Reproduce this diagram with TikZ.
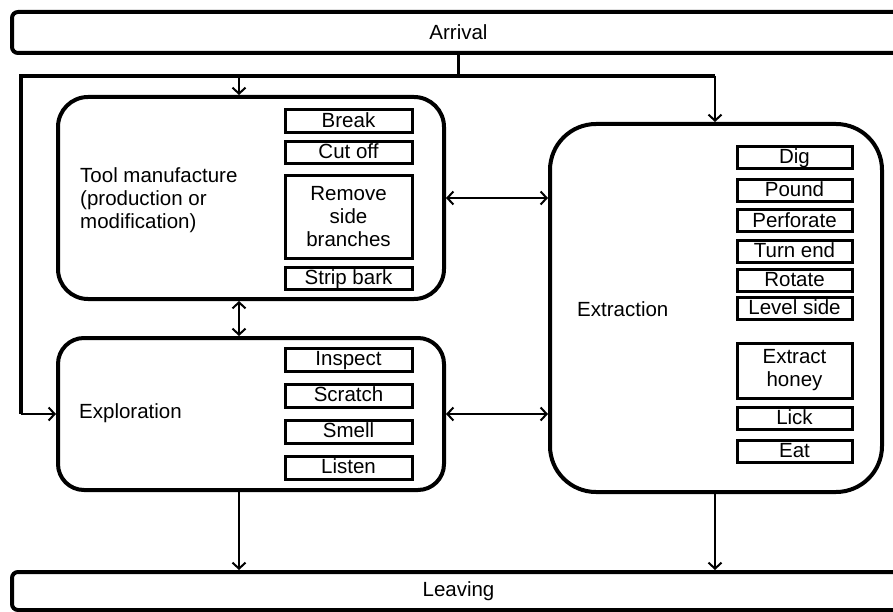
\documentclass[tikz,border=0pt]{standalone}
\usepackage{fontspec}
\setmainfont{Liberation Sans}
\usetikzlibrary{arrows.meta}

\tikzstyle{phase}=[draw,line width=4pt,rectangle,inner sep=0pt]
\tikzstyle{stage}=[phase,rounded corners=6pt,minimum width=893pt]
\tikzstyle{act}=[draw,line width=3pt,rectangle,inner sep=0pt,align=center]
\tikzstyle{actline}=[act,text height=14pt,text depth=2pt]
\tikzstyle{phasename}=[anchor=west,align=left,inner sep=0pt]
\tikzstyle{link}=[draw,line width=2pt,->]
\tikzstyle{bus}=[draw,line width=3.5pt]

\begin{document}
\begin{tikzpicture}[x=1pt, y=-1pt, >={Straight Barb[length=6pt,width=13pt]},
    font=\fontsize{20.5}{23}\selectfont]
    \useasboundingbox (0,0) rectangle (893,612);
    % Arrival and leaving bars
    \node[stage,minimum height=41pt] (arrival) at (458.5,32.5) {Arrival};
    \node[stage,minimum height=38pt] (leaving) at (458.5,591) {Leaving};
    % The three phases
    \node[phase,rounded corners=30pt,minimum width=386pt,minimum height=202pt] (tool) at (251,198) {};
    \node[phase,rounded corners=26pt,minimum width=386pt,minimum height=152pt] (explore) at (251,414) {};
    \node[phase,rounded corners=46pt,minimum width=332pt,minimum height=368pt] (extract) at (716,308) {};
    \node[phasename] (toolname) at (80,200) {Tool manufacture\\(production or\\modification)};
    \node[phasename] (explorename) at (79,413) {Exploration};
    \node[phasename] (extractname) at (577,309) {Extraction};
    % Actions inside each phase
    \foreach \pos/\name/\hgt/\lbl in {{(348.5,121.5)/brk/23/Break}, {(348.5,153)/cut/22/Cut off},
        {(348.5,278)/strip/22/Strip bark}, {(348.5,359.5)/insp/23/Inspect},
        {(348.5,395.5)/scr/23/Scratch}, {(348.5,431.5)/sml/23/Smell}, {(348.5,467.5)/lst/23/Listen}}
        \node[actline,minimum width=127pt,minimum height=\hgt pt] (\name) at \pos {\lbl};
    \node[act,minimum width=127pt,minimum height=82pt] (rsb) at (348.5,217) {Remove\\side\\branches};
    \foreach \pos/\name/\lbl in {{(794.5,158)/dig/Dig}, {(794.5,191)/pnd/Pound}, {(794.5,221)/perf/Perforate},
        {(794.5,251)/turn/Turn end}, {(794.5,280.5)/rot/Rotate}, {(794.5,308.5)/lvl/Level side},
        {(794.5,418.5)/lick/Lick}, {(794.5,451.5)/eat/Eat}}
        \node[actline,minimum width=115pt,minimum height=22pt] (\name) at \pos {\lbl};
    \node[act,minimum width=115pt,minimum height=55pt] (exh) at (794.5,370.5) {Extract\\honey};
    % Connect arrival to the phases
    \coordinate (busL) at (21,76);
    \coordinate (busT) at (239,76);
    \coordinate (busR) at (715,76);
    \path[bus] (arrival.south) -- (arrival.south |- busL);
    \path[bus] (busR) -- (busL) -- (busL |- explore.west);
    \path[link] (busL |- explore.west) -- (explore.west);
    \path[link] (busT) -- (busT |- tool.north);
    \path[link] (busR) -- (busR |- extract.north);
    % Links between the phases
    \path[link,<->] (busT |- tool.south) -- (busT |- explore.north);
    \path[link,<->] (tool.east) -- (tool.east -| extract.west);
    \path[link,<->] (explore.east) -- (explore.east -| extract.west);
    % Leaving
    \path[link] (busT |- explore.south) -- (busT |- leaving.north);
    \path[link] (busR |- extract.south) -- (busR |- leaving.north);
\end{tikzpicture}
\end{document}
